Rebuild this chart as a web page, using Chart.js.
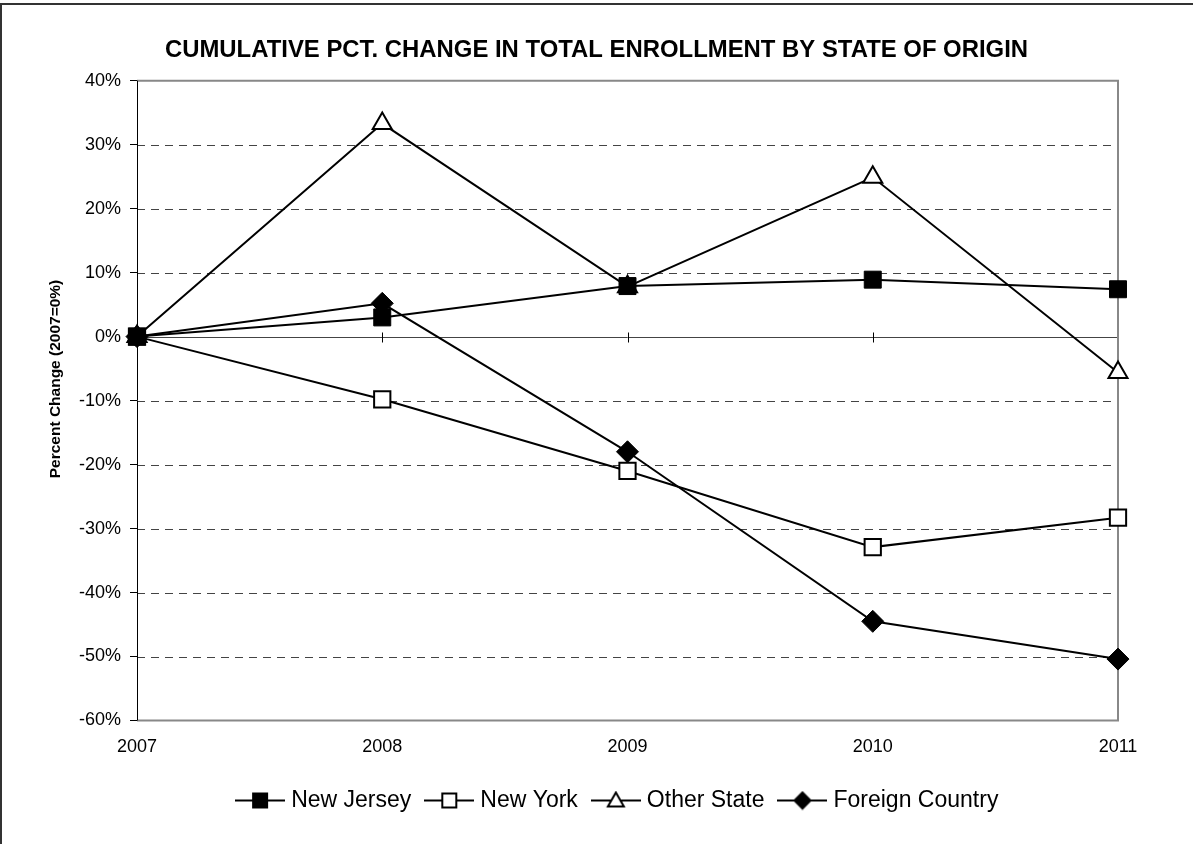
<!DOCTYPE html>
<html>
<head>
<meta charset="utf-8">
<script src="https://cdn.jsdelivr.net/npm/chart.js@4.4.1/dist/chart.umd.min.js"></script>
<style>
  html, body { margin: 0; padding: 0; background: #fff; }
  #wrap { width: 1193px; height: 844px; position: relative; }
</style>
</head>
<body>
<div id="wrap"><canvas id="chart-enrollment" width="1193" height="844"></canvas></div>
<script>
// data (cumulative % change, 2007 = 0%)
const years = ["2007", "2008", "2009", "2010", "2011"];
const newJersey = [0, 3.0, 7.9, 8.9, 7.4];
const newYork = [0, -9.8, -21.0, -32.9, -28.3];
const otherState = [0, 33.3, 7.8, 24.9, -5.6];
const foreignCountry = [0, 5.2, -18.0, -44.5, -50.4];
const yMin = -60;
const yMax = 40;
const yStep = 10;

Chart.defaults.font.family = "'Liberation Sans', Arial, sans-serif";
Chart.defaults.color = "#000";

// small line + marker pictures for the legend
function legendIcon(style, fill) {
    const c = document.createElement("canvas");
    c.width = 50;
    c.height = 20;
    const g = c.getContext("2d");
    g.strokeStyle = "#000";
    g.lineWidth = 2;
    g.beginPath();
    g.moveTo(0, 10);
    g.lineTo(50, 10);
    g.stroke();
    g.fillStyle = fill;
    g.beginPath();
    if (style === "rect") {
        g.rect(18, 3, 14, 14);
    } else if (style === "triangle") {
        g.moveTo(25, 2);
        g.lineTo(33, 16);
        g.lineTo(17, 16);
        g.closePath();
    } else {
        g.moveTo(25, 2);
        g.lineTo(33, 10);
        g.lineTo(25, 18);
        g.lineTo(17, 10);
        g.closePath();
    }
    g.fill();
    g.stroke();
    return c;
}

const icons = [
    legendIcon("rect", "#000"),
    legendIcon("rect", "#fff"),
    legendIcon("triangle", "#fff"),
    legendIcon("diamond", "#000"),
];

function series(label, data, pointStyle, radius, fill, bw) {
    return {
        label: label,
        data: data,
        borderColor: "#000",
        borderWidth: 2,
        tension: 0,
        fill: false,
        clip: false,
        pointStyle: pointStyle,
        pointRadius: radius,
        pointHoverRadius: radius,
        pointBackgroundColor: fill,
        pointBorderColor: "#000",
        pointBorderWidth: bw,
    };
}

const plotDecor = {
    id: "plotDecor",
    afterLayout(chart) {
        // legend in the reference sits a little left of the plot centre
        chart.legend.left -= 8;
        chart.legend.right -= 8;
    },
    beforeDraw(chart) {
        const ctx = chart.ctx;
        ctx.save();
        ctx.fillStyle = "#fff";
        ctx.fillRect(0, 0, chart.width, chart.height);
        // outer frame (top and left)
        ctx.strokeStyle = "#333";
        ctx.lineWidth = 2;
        ctx.beginPath();
        ctx.moveTo(1, chart.height);
        ctx.lineTo(1, 4);
        ctx.lineTo(chart.width, 4);
        ctx.stroke();
        ctx.restore();
    },
    beforeDatasetsDraw(chart) {
        const ctx = chart.ctx;
        const a = chart.chartArea;
        const x = chart.scales.x;
        const y = chart.scales.y;
        ctx.save();
        // dashed grid lines
        ctx.strokeStyle = "#444";
        ctx.lineWidth = 1;
        ctx.setLineDash([8, 6]);
        y.ticks.forEach(function (t) {
            if (t.value === 0 || t.value === yMin || t.value === yMax) return;
            const py = Math.round(y.getPixelForValue(t.value)) + 0.5;
            ctx.beginPath();
            ctx.moveTo(a.left, py);
            ctx.lineTo(a.right, py);
            ctx.stroke();
        });
        ctx.setLineDash([]);
        // zero line with category ticks
        const zy = Math.round(y.getPixelForValue(0)) + 0.5;
        ctx.strokeStyle = "#444";
        ctx.beginPath();
        ctx.moveTo(a.left, zy);
        ctx.lineTo(a.right, zy);
        ctx.stroke();
        ctx.strokeStyle = "#000";
        years.forEach(function (yr, i) {
            const px = Math.round(x.getPixelForValue(i)) + 0.5;
            ctx.beginPath();
            ctx.moveTo(px, zy - 5);
            ctx.lineTo(px, zy + 5);
            ctx.stroke();
        });
        // plot frame: top, right, bottom in grey
        ctx.strokeStyle = "#888";
        ctx.lineWidth = 2;
        ctx.beginPath();
        ctx.moveTo(a.left, a.top);
        ctx.lineTo(a.right, a.top);
        ctx.lineTo(a.right, a.bottom);
        ctx.lineTo(a.left, a.bottom);
        ctx.stroke();
        // left axis
        ctx.strokeStyle = "#000";
        ctx.lineWidth = 1;
        ctx.beginPath();
        ctx.moveTo(a.left + 0.5, a.top);
        ctx.lineTo(a.left + 0.5, a.bottom);
        ctx.stroke();
        ctx.restore();
    },
    afterDraw(chart) {
        const ctx = chart.ctx;
        ctx.save();
        ctx.translate(56, 379);
        ctx.rotate(-Math.PI / 2);
        ctx.font = "bold 15.5px 'Liberation Sans', Arial, sans-serif";
        ctx.fillStyle = "#000";
        ctx.textAlign = "center";
        ctx.textBaseline = "middle";
        ctx.fillText("Percent Change (2007=0%)", 0, 0);
        ctx.restore();
    },
};

const canvas = document.getElementById("chart-enrollment");

const dataEnrollment = {
    labels: years,
    datasets: [
        series("New Jersey", newJersey, "rect", 12, "#000", 1),
        series("New York", newYork, "rect", 11.5, "#fff", 2),
        series("Other State", otherState, "triangle", 11, "#fff", 2),
        series("Foreign Country", foreignCountry, "rectRot", 11, "#000", 1),
    ],
};

const configEnrollment = {
    type: "line",
    data: dataEnrollment,
    options: {
        responsive: false,
        animation: false,
        layout: {
            padding: { left: 0, right: 0, top: 0, bottom: 22 },
        },
        plugins: {
            title: {
                display: true,
                text: "CUMULATIVE PCT. CHANGE IN TOTAL ENROLLMENT BY STATE OF ORIGIN",
                font: { size: 23.9, weight: "bold" },
                color: "#000",
                padding: { top: 36, bottom: 16 },
            },
            legend: {
                position: "bottom",
                fullSize: false,
                labels: {
                    usePointStyle: true,
                    pointStyleWidth: 39,
                    boxHeight: 23,
                    padding: 18.5,
                    font: { size: 23 },
                    color: "#000",
                    generateLabels(chart) {
                        const items = Chart.defaults.plugins.legend.labels.generateLabels(chart);
                        items.forEach(function (it, i) {
                            it.pointStyle = icons[i];
                        });
                        return items;
                    },
                },
            },
            tooltip: { enabled: false },
        },
        scales: {
            x: {
                grid: { display: false },
                border: { display: false },
                ticks: { font: { size: 18 }, color: "#000", padding: 8, maxRotation: 0 },
                afterFit(scale) {
                    scale.height = 50;
                },
            },
            y: {
                min: yMin,
                max: yMax,
                ticks: {
                    stepSize: yStep,
                    font: { size: 18 },
                    color: "#000",
                    padding: 9,
                    callback: function (v) {
                        return v + "%";
                    },
                },
                grid: { drawOnChartArea: false, drawTicks: true, tickLength: 7, tickColor: "#000" },
                border: { display: false },
                afterFit(scale) {
                    scale.width = 137;
                },
            },
            // empty right-hand space so the title centres on the full width
            yRight: {
                position: "right",
                display: true,
                min: yMin,
                max: yMax,
                grid: { display: false },
                border: { display: false },
                ticks: { display: false },
                afterFit(scale) {
                    scale.width = 75;
                },
            },
        },
    },
    plugins: [plotDecor],
};

new Chart(canvas, configEnrollment);
</script>
</body>
</html>
